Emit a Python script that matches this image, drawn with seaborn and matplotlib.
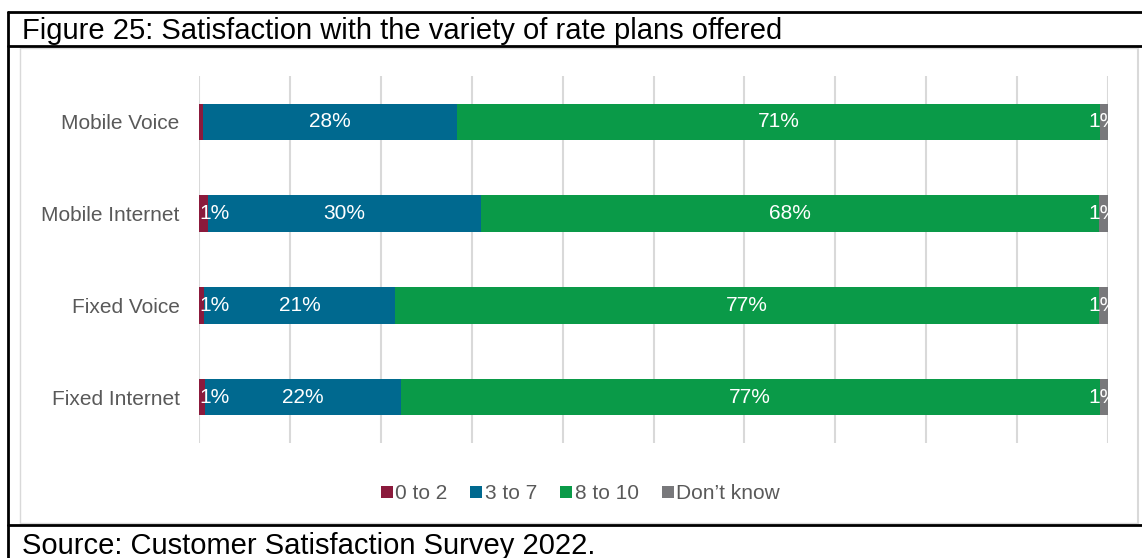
import matplotlib
matplotlib.use('Agg')
import matplotlib.pyplot as plt
from matplotlib.lines import Line2D
import numpy as np
import pandas as pd
import seaborn as sns

# данные (проценты)
categories = ['Mobile Voice', 'Mobile Internet', 'Fixed Voice', 'Fixed Internet']
series_names = ['0 to 2', '3 to 7', '8 to 10', 'Don\u2019t know']
low = [0.4, 1.0, 0.6, 0.7]
mid = [28.0, 30.0, 21.0, 21.5]
high = [70.7, 68.0, 77.4, 76.9]
dont_know = [0.9, 1.0, 1.0, 0.9]
labels_low = ['', '1%', '1%', '1%']
labels_mid = ['28%', '30%', '21%', '22%']
labels_high = ['71%', '68%', '77%', '77%']
labels_dk = ['1%', '1%', '1%', '1%']
colors = ['#8b1a3c', '#00698f', '#0a9a48', '#78787b']

sns.set_style('white')
plt.rcParams['font.family'] = ['Liberation Sans', 'DejaVu Sans']

df = pd.DataFrame({'category': categories, '0 to 2': low, '3 to 7': mid,
                   '8 to 10': high, 'Don\u2019t know': dont_know})
parts = df[series_names].to_numpy()
cum = np.cumsum(parts, axis=1)

fig = plt.figure(figsize=(11.42, 5.58), dpi=100)
ax = fig.add_axes([199 / 1142, (558 - 443) / 558, 909 / 1142, 367 / 558])

# рисуем накопленные суммы от большей к меньшей, чтобы получились стеки
for i in range(len(series_names) - 1, -1, -1):
    sns.barplot(x=cum[:, i], y=df['category'], color=colors[i], width=0.4,
                linewidth=0, saturation=1, ax=ax, orient='h', zorder=3)

ax.set_xlim(0, 100)
ax.set_ylim(3.5, -0.5)
ax.set_xticks(np.arange(0, 101, 10))
ax.set_xticklabels([])
ax.grid(axis='x', color='#d9d9d9', linewidth=1.5, zorder=0)
ax.set_axisbelow(True)
for s in ax.spines.values():
    s.set_visible(False)
ax.set_xlabel('')
ax.set_ylabel('')
ax.tick_params(axis='both', length=0)
ax.tick_params(axis='y', pad=14, labelsize=15, labelcolor='#595959')

# подписи сегментов
all_labels = [labels_low, labels_mid, labels_high, labels_dk]
for j in range(len(series_names)):
    for i in range(len(categories)):
        start = cum[i, j] - parts[i, j]
        center = start + parts[i, j] / 2
        if j == 0:
            # как в Excel: подпись сдвинута внутрь области графика
            ax.text(0, i, all_labels[j][i], ha='left', va='center',
                    color='white', fontsize=15, zorder=5, clip_on=True)
        else:
            ax.text(center, i, all_labels[j][i], ha='center', va='center',
                    color='white', fontsize=15, zorder=5, clip_on=True)

# легенда
handles = [Line2D([], [], marker='s', linestyle='', markersize=8.6,
                  markerfacecolor=c, markeredgewidth=0) for c in colors]
fig.legend(handles, series_names, loc='center', bbox_to_anchor=(0.508, 0.115),
           ncol=4, frameon=False, fontsize=15, labelcolor='#595959',
           handletextpad=0.1, columnspacing=1.1, handlelength=0.6)

# рамки как в документе
def px_line(x0, y0, x1, y1, color='black', lw=2):
    fig.add_artist(Line2D([x0 / 1142, x1 / 1142], [1 - y0 / 558, 1 - y1 / 558],
                          color=color, linewidth=lw))

px_line(20, 48, 1138, 48, '#d9d9d9', 1)
px_line(20, 48, 20, 523, '#d9d9d9', 1)
px_line(20, 523, 1138, 523, '#d9d9d9', 1)
px_line(1138, 48, 1138, 523, '#d9d9d9', 1.5)
px_line(8, 12, 1142, 12)
px_line(8, 46, 1142, 46)
px_line(8, 525, 1142, 525)
px_line(8, 12, 8, 558)

fig.text(22 / 1142, 1 - 31 / 558, 'Figure 25: Satisfaction with the variety of rate plans offered',
         fontsize=21, color='black', va='center', ha='left')
fig.text(22 / 1142, 1 - 546 / 558, 'Source: Customer Satisfaction Survey 2022.',
         fontsize=21, color='black', va='center', ha='left')

fig.savefig('out.png', dpi=100)
